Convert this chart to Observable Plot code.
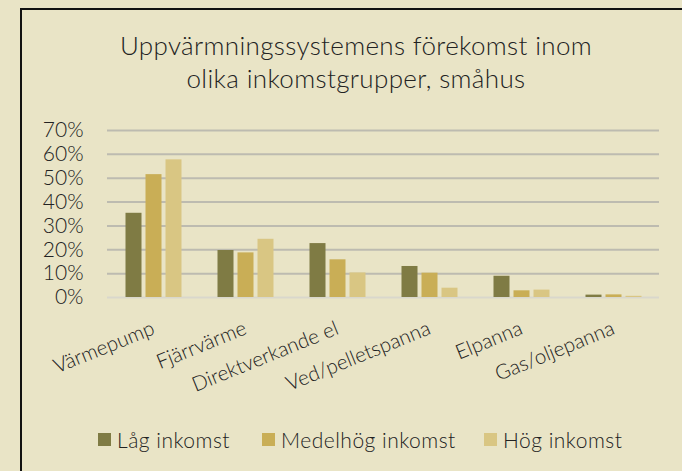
<!DOCTYPE html>
<html>
<head>
<meta charset="utf-8">
<script src="https://cdn.jsdelivr.net/npm/d3@7"></script>
<script src="https://cdn.jsdelivr.net/npm/@observablehq/plot@0.6"></script>
<style>
  html, body { margin: 0; padding: 0; width: 682px; height: 471px; overflow: hidden; background: #E9E4C6; }
  body { position: relative; font-family: Lato, "Open Sans", sans-serif; color: #222; }
  #frame { position: absolute; left: 20px; top: 8px; width: 700px; height: 500px; border: 2px solid #111; box-sizing: border-box; }
  #title { position: absolute; left: 11px; top: 29px; width: 690px; text-align: center; font-size: 26px; letter-spacing: 0.35px; font-weight: 300; line-height: 33px; color: #222; }
  #chart { position: absolute; left: 0; top: 110px; }
  .item { position: absolute; top: 427px; height: 24px; display: flex; align-items: center; font-size: 21px; letter-spacing: 0.5px; font-weight: 300; color: #222; white-space: nowrap; }
  .sw { width: 13px; height: 13px; margin-right: 6px; }
</style>
</head>
<body>
<div id="frame"></div>
<div id="title">Uppvärmningssystemens förekomst inom<br>olika inkomstgrupper, småhus</div>
<div id="chart"></div>
<div id="legend"></div>
<script>
const categories = ["Värmepump", "Fjärrvärme", "Direktverkande el", "Ved/pelletspanna", "Elpanna", "Gas/oljepanna"];
const series = ["Låg inkomst", "Medelhög inkomst", "Hög inkomst"];
const lagInkomst = [35.3, 19.7, 22.6, 13.0, 8.9, 1.0];
const medelhogInkomst = [51.5, 18.7, 15.8, 10.2, 2.8, 1.1];
const hogInkomst = [57.7, 24.4, 10.3, 3.9, 3.1, 0.5];
const yTicks = [0, 0.1, 0.2, 0.3, 0.4, 0.5, 0.6, 0.7];
const colors = ["#7F7B44", "#C9AE56", "#D9C683"];
const legendLeft = [98, 262, 484];

const seriesValues = [lagInkomst, medelhogInkomst, hogInkomst];
const data = [];
categories.forEach((c, i) => {
  series.forEach((s, j) => data.push({cat: c, series: s, value: seriesValues[j][i] / 100}));
});

const plot = Plot.plot({
  width: 682,
  height: 300,
  marginTop: 20,
  marginBottom: 113,
  marginLeft: 105.5,
  marginRight: 22,
  style: {background: "transparent", fontFamily: "Lato, 'Open Sans', sans-serif", color: "#222"},
  fx: {domain: categories, padding: 0, axis: null},
  x: {domain: series, paddingInner: 0.21, paddingOuter: 0.85, axis: null},
  y: {domain: [0, 0.7], axis: null},
  color: {domain: series, range: colors},
  marks: [
    Plot.gridY(yTicks.slice(1), {stroke: "#BDBBB0", strokeOpacity: 1, strokeWidth: 2}),
    Plot.ruleY([0], {stroke: "#D9D7CC", strokeWidth: 2}),
    Plot.barY(data, {fx: "cat", x: "series", y: "value", fill: "series"}),
    Plot.axisY(yTicks, {tickSize: 0, tickPadding: 24, fontSize: 21, fontWeight: 300, letterSpacing: 0.5, tickFormat: d3.format(".0%"), label: null}),
    Plot.text(categories, {fx: d => d, text: d => d, frameAnchor: "bottom", dy: 30, rotate: -22, textAnchor: "end", lineAnchor: "middle", fontSize: 20.5, fontWeight: 300, letterSpacing: 0.3, fill: "#222"})
  ]
});
document.getElementById("chart").appendChild(plot);

const legend = document.getElementById("legend");
series.forEach((s, i) => {
  const item = document.createElement("div");
  item.className = "item";
  item.style.left = legendLeft[i] + "px";
  const sw = document.createElement("div");
  sw.className = "sw";
  sw.style.background = colors[i];
  const t = document.createElement("span");
  t.textContent = s;
  item.appendChild(sw);
  item.appendChild(t);
  legend.appendChild(item);
});
</script>
</body>
</html>
